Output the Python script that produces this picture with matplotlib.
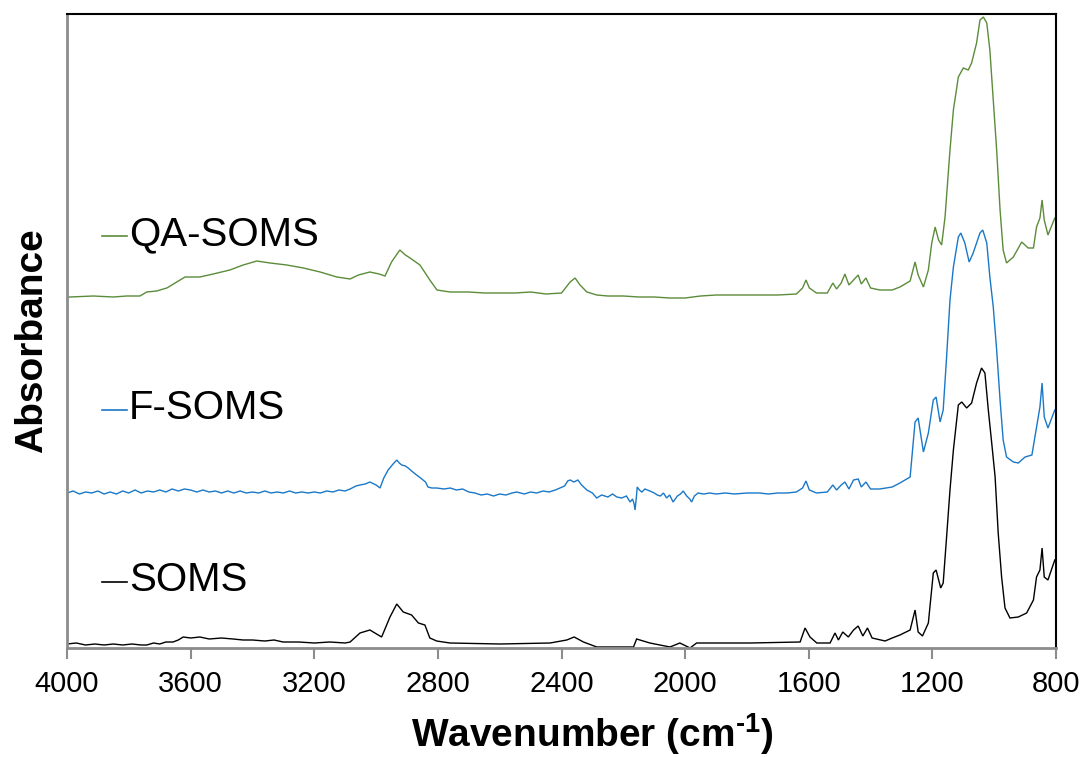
import matplotlib
matplotlib.use("Agg")
import matplotlib.pyplot as plt
import numpy as np

plt.rcParams['font.family'] = ['Liberation Sans', 'DejaVu Sans']
plt.rcParams['mathtext.fontset'] = 'custom'
plt.rcParams['mathtext.rm'] = 'Liberation Sans:bold'
plt.rcParams['mathtext.bf'] = 'Liberation Sans:bold'
plt.rcParams['mathtext.default'] = 'bf'

# ---- data ----
qa_wn = [4000, 3990, 3915, 3850, 3807, 3764, 3742, 3710, 3677, 3645, 3618, 3570, 3527, 3473, 3430,
         3386, 3343, 3289, 3235, 3181, 3127, 3084, 3057, 3020, 2990, 2971, 2950, 2923, 2905, 2890,
         2858, 2826, 2803, 2761, 2700, 2650, 2600, 2550, 2500, 2450, 2400, 2372, 2356, 2340, 2318,
         2286, 2250, 2200, 2150, 2100, 2050, 2000, 1950, 1900, 1800, 1700, 1640,
         1620, 1609, 1598, 1575, 1540, 1522, 1510, 1495, 1483, 1470, 1455, 1440, 1430, 1415, 1400,
         1370, 1330, 1305, 1272, 1256, 1246, 1229, 1213, 1202, 1191, 1180, 1170, 1159, 1143, 1132,
         1116, 1100, 1084, 1073, 1057, 1046, 1035, 1024, 1014, 1003, 992, 981, 971, 960, 938,
         911, 890, 873, 863, 852, 845, 838, 826, 804]
qa_abs = [3.51, 3.51, 3.52, 3.51, 3.52, 3.52, 3.56, 3.57, 3.60, 3.66, 3.71, 3.71, 3.74, 3.78, 3.83,
          3.87, 3.85, 3.83, 3.80, 3.76, 3.71, 3.69, 3.73, 3.76, 3.74, 3.72, 3.86, 3.98, 3.93, 3.90,
          3.83, 3.68, 3.58, 3.56, 3.56, 3.55, 3.55, 3.55, 3.56, 3.54, 3.55, 3.66, 3.70, 3.63, 3.56,
          3.53, 3.52, 3.52, 3.51, 3.51, 3.50, 3.50, 3.52, 3.53, 3.53, 3.53, 3.54,
          3.60, 3.68, 3.60, 3.55, 3.55, 3.65, 3.59, 3.65, 3.74, 3.63, 3.68, 3.73, 3.64, 3.70, 3.60,
          3.58, 3.58, 3.61, 3.67, 3.86, 3.73, 3.61, 3.78, 4.05, 4.21, 4.08, 4.03, 4.31, 4.98, 5.38,
          5.71, 5.80, 5.78, 5.85, 6.05, 6.28, 6.31, 6.25, 5.98, 5.48, 4.98, 4.38, 3.98, 3.85, 3.91,
          4.06, 4.00, 4.00, 4.21, 4.30, 4.48, 4.28, 4.13, 4.30]

f_wn = [4000, 3980, 3960, 3940, 3920, 3900, 3880, 3860, 3840, 3820, 3800, 3780, 3760, 3740, 3720,
        3700, 3680, 3660, 3640, 3620, 3600, 3580, 3560, 3540, 3520, 3500, 3480, 3460, 3440, 3420,
        3400, 3380, 3360, 3340, 3320, 3300, 3280, 3260, 3240, 3220, 3200, 3180, 3160, 3140, 3120,
        3100, 3084, 3065, 3052, 3035, 3020, 3000, 2987, 2975, 2961, 2945, 2933, 2925, 2917, 2905,
        2896, 2885, 2869, 2860, 2848, 2840, 2832, 2820, 2804, 2780, 2760, 2740, 2720, 2700, 2680,
        2660, 2640, 2620, 2600, 2580, 2560, 2545, 2520, 2500, 2480, 2460, 2440, 2420, 2405, 2390,
        2380, 2372, 2360, 2347, 2335, 2318, 2300, 2286, 2270, 2250, 2235, 2221, 2205, 2190, 2178,
        2170, 2165, 2162, 2158, 2155, 2148, 2140, 2130, 2114, 2100, 2090, 2080, 2070, 2060, 2050,
        2039, 2025, 2015, 2006, 1995, 1985, 1979, 1970, 1958, 1940, 1920, 1900, 1870, 1840, 1800,
        1760, 1730, 1700, 1670, 1640, 1620, 1609, 1598,
        1575, 1540, 1522, 1510, 1495, 1483, 1470, 1455, 1440, 1430, 1415, 1400, 1370, 1330, 1305,
        1272, 1256, 1246, 1229, 1213, 1197, 1188, 1175, 1165, 1154, 1143, 1132, 1116, 1108, 1095,
        1081, 1068, 1046, 1037, 1024, 1014, 1003, 992, 981, 971, 960, 938, 922, 900, 878,
        863, 852, 845, 838, 826, 804]
f_abs = [1.55, 1.57, 1.54, 1.56, 1.55, 1.57, 1.54, 1.56, 1.54, 1.57, 1.55, 1.58, 1.55, 1.57, 1.56,
         1.58, 1.56, 1.59, 1.57, 1.59, 1.58, 1.56, 1.58, 1.56, 1.57, 1.55, 1.57, 1.55, 1.57, 1.55,
         1.56, 1.55, 1.57, 1.55, 1.56, 1.55, 1.57, 1.55, 1.56, 1.55, 1.56, 1.55, 1.57, 1.56, 1.58,
         1.57, 1.59, 1.62, 1.63, 1.64, 1.66, 1.63, 1.60, 1.70, 1.78, 1.84, 1.88, 1.85, 1.83, 1.82,
         1.80, 1.77, 1.73, 1.71, 1.68, 1.66, 1.61, 1.60, 1.60, 1.59, 1.60, 1.58, 1.59, 1.56, 1.55,
         1.53, 1.54, 1.52, 1.54, 1.53, 1.55, 1.56, 1.54, 1.56, 1.55, 1.57, 1.56, 1.58, 1.60, 1.62,
         1.67, 1.68, 1.66, 1.68, 1.63, 1.58, 1.55, 1.50, 1.53, 1.51, 1.54, 1.51, 1.50, 1.52, 1.46,
         1.49, 1.44, 1.38, 1.50, 1.61, 1.58, 1.56, 1.59, 1.57, 1.55, 1.53, 1.52, 1.55, 1.50, 1.53,
         1.46, 1.52, 1.54, 1.57, 1.52, 1.49, 1.46, 1.52, 1.55, 1.54, 1.55, 1.54, 1.55, 1.54, 1.55,
         1.55, 1.54, 1.55, 1.55, 1.56, 1.60, 1.67, 1.58,
         1.55, 1.56, 1.63, 1.58, 1.63, 1.66, 1.59, 1.68, 1.69, 1.61, 1.66, 1.59, 1.59, 1.61, 1.65,
         1.71, 2.26, 2.30, 1.96, 2.15, 2.48, 2.51, 2.26, 2.38, 2.91, 3.48, 3.81, 4.11, 4.15, 4.05,
         3.86, 3.95, 4.15, 4.18, 4.05, 3.71, 3.41, 2.98, 2.48, 2.08, 1.91, 1.86, 1.85, 1.91, 1.93,
         2.21, 2.41, 2.65, 2.31, 2.20, 2.38]

s_wn = [4000, 3970, 3940, 3910, 3880, 3850, 3820, 3790, 3760, 3742, 3720, 3700, 3680, 3657, 3640,
        3624, 3600, 3570, 3540, 3500, 3463, 3430, 3400, 3360, 3330, 3301, 3250, 3200, 3150, 3100,
        3084, 3052, 3020, 2982, 2955, 2933, 2912, 2885, 2863, 2842, 2826, 2804, 2761, 2599, 2437,
        2383, 2359, 2329, 2286, 2167, 2157, 2114, 2049, 2017, 1984, 1963, 1790, 1628, 1612, 1596,
        1574, 1531, 1515, 1504, 1490, 1472, 1455, 1440, 1425, 1410, 1395, 1353, 1330, 1305, 1272,
        1256, 1246, 1232, 1213, 1197, 1188, 1173, 1165, 1154, 1143, 1132, 1116, 1105, 1089, 1073,
        1057, 1041, 1030, 1019, 1008, 997, 987, 976, 965, 949, 922, 895, 873, 863, 852,
        845, 838, 826, 804]
s_abs = [0.04, 0.05, 0.03, 0.04, 0.03, 0.04, 0.03, 0.04, 0.03, 0.03, 0.05, 0.04, 0.06, 0.06, 0.08,
         0.11, 0.10, 0.11, 0.09, 0.10, 0.09, 0.08, 0.08, 0.07, 0.08, 0.06, 0.06, 0.05, 0.06, 0.05,
         0.06, 0.15, 0.18, 0.11, 0.31, 0.44, 0.36, 0.33, 0.25, 0.23, 0.10, 0.07, 0.05, 0.04, 0.05,
         0.08, 0.11, 0.06, 0.01, 0.01, 0.09, 0.05, 0.01, 0.05, 0.00, 0.05, 0.05, 0.06, 0.20, 0.11,
         0.05, 0.05, 0.15, 0.08, 0.16, 0.11, 0.18, 0.22, 0.12, 0.20, 0.10, 0.07, 0.10, 0.13, 0.18,
         0.38, 0.16, 0.12, 0.25, 0.75, 0.78, 0.60, 0.65, 1.11, 1.58, 1.98, 2.43, 2.46, 2.40, 2.45,
         2.65, 2.80, 2.75, 2.38, 2.05, 1.71, 1.15, 0.71, 0.40, 0.30, 0.31, 0.35, 0.48, 0.71, 0.78,
         1.00, 0.71, 0.68, 0.88]

series_names = ['QA-SOMS', 'F-SOMS', 'SOMS']
series_colors = ['#5b8c3a', '#1a78c8', '#000000']
x_ticks = [4000, 3600, 3200, 2800, 2400, 2000, 1600, 1200, 800]

# ---- figure ----
fig = plt.figure(figsize=(10.86, 7.57), dpi=100)
ax = fig.add_axes([67/1086, 1-648/757, (1056-67)/1086, (648-14)/757])

for wn, ab, col in zip([qa_wn, f_wn, s_wn], [qa_abs, f_abs, s_abs], series_colors):
    ax.plot(wn, ab, color=col, lw=1.0, solid_joinstyle='miter')

ax.set_xlim(4000, 800)
ax.set_ylim(0, 6.34)
ax.set_xticks(x_ticks)
ax.set_xticklabels([str(t) for t in x_ticks], fontsize=21)
ax.set_yticks([])
ax.tick_params(axis='x', direction='out', length=8, width=1.5, color='#8c8c8c', pad=8)

for side in ['left', 'bottom']:
    ax.spines[side].set_color('#8c8c8c')
    ax.spines[side].set_linewidth(2)
for side in ['top', 'right']:
    ax.spines[side].set_color('#000000')
    ax.spines[side].set_linewidth(1.5)

ax.set_xlabel('Wavenumber (cm$^{\u2010' + '1}$)', fontsize=28, fontweight='bold')
ax.xaxis.set_label_coords(0.531, -0.100)
ax.set_ylabel('Absorbance', fontsize=28, fontweight='bold')
ax.yaxis.set_label_coords(-0.017, 0.485)

# series labels (legend-like entries)
label_y_px = [234, 408, 580]
for name, col, ypx in zip(series_names, series_colors, label_y_px):
    yf = (648 - ypx) / (648 - 14)
    ax.plot([(102-67)/989, (127-67)/989], [yf - 0.003, yf - 0.003], transform=ax.transAxes,
            color=col, lw=1.2, clip_on=False)
    ax.text((129-67)/989, yf, name, transform=ax.transAxes, fontsize=29,
            va='center', ha='left', color='black')

fig.savefig('out.png', dpi=100)
